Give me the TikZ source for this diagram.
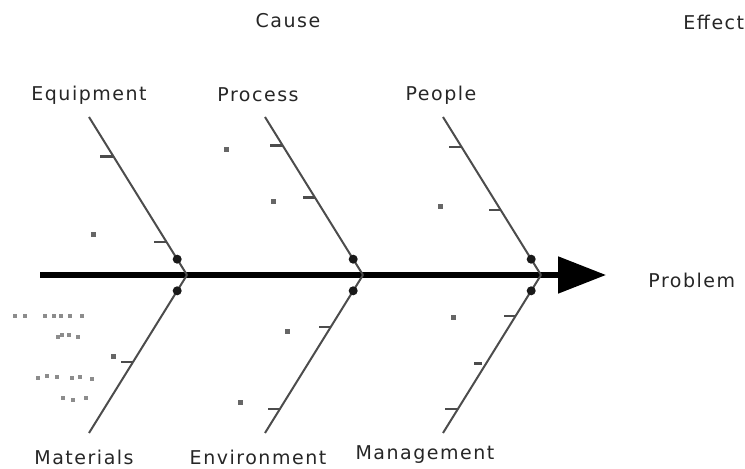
\documentclass[tikz,border=0pt]{standalone}
\usepackage{fontspec}
\newfontfamily\fishfont{DejaVu Sans}[LetterSpace=8]
\usetikzlibrary{arrows.meta}

\begin{document}
\begin{tikzpicture}[x=0.5pt, y=-0.5pt,
  bone/.style={draw=black!70, line width=1pt},
  tick/.style={draw=black!70, line width=1.2pt},
  blob/.style={circle, fill=black!90, inner sep=0pt, minimum size=4.5pt},
  speck/.style={fill=black!60},
  lbl/.style={font=\fishfont\fontsize{9.5}{11}\selectfont, text=black!85, inner sep=0pt}]
  \useasboundingbox (0,0) rectangle (745,469);

  % Headings
  \node[lbl] (cause) at (288,21) {Cause};
  \node[lbl, anchor=west] (effect) at (683,22) {Effect};

  % Spine
  \coordinate (tail) at (40,275);
  \coordinate (head) at (606,275);
  \draw[line width=2.6pt, -{Triangle[length=24pt, width=18pt]}] (tail) -- (head);
  \node[lbl, anchor=west] (problem) at (648,280) {Problem};

  % Junctions on the spine
  \coordinate (j1) at (187,275);
  \coordinate (j2) at (363,275);
  \coordinate (j3) at (541,275);

  % Upper bones
  \node[lbl] (equip) at (89,95) {Equipment};
  \node[lbl] (proc) at (258,95) {Process};
  \node[lbl] (people) at (441,95) {People};
  \coordinate (equip-top) at (89,117);
  \coordinate (proc-top) at (265,117);
  \coordinate (people-top) at (443,117);
  \draw[bone] (equip-top) -- (j1) coordinate[pos=0.25] (eq1) coordinate[pos=0.79] (eq2) node[pos=0.9, blob] {};
  \draw[bone] (proc-top) -- (j2) coordinate[pos=0.18] (pr1) coordinate[pos=0.51] (pr2) node[pos=0.9, blob] {};
  \draw[bone] (people-top) -- (j3) coordinate[pos=0.19] (pe1) coordinate[pos=0.59] (pe2) node[pos=0.9, blob] {};
  \draw[tick] (eq1) -- ++(-14,0);
  \draw[tick] (eq2) -- ++(-12,0);
  \draw[tick] (pr1) -- ++(-13,0);
  \draw[tick] (pr2) -- ++(-12,0);
  \draw[tick] (pe1) -- ++(-13,0);
  \draw[tick] (pe2) -- ++(-12,0);

  % Lower bones
  \node[lbl] (mat) at (84,457) {Materials};
  \node[lbl] (env) at (258,457) {Environment};
  \node[lbl] (mgmt) at (425,455) {Management};
  \coordinate (mat-end) at (89,433);
  \coordinate (env-end) at (265,433);
  \coordinate (mgmt-end) at (443,433);
  \draw[bone] (j1) -- (mat-end) coordinate[pos=0.55] (ma1) node[pos=0.1, blob] {};
  \draw[bone] (j2) -- (env-end) coordinate[pos=0.33] (en1) coordinate[pos=0.85] (en2) node[pos=0.1, blob] {};
  \draw[bone] (j3) -- (mgmt-end) coordinate[pos=0.26] (mg1) coordinate[pos=0.56] (mg2) coordinate[pos=0.85] (mg3) node[pos=0.1, blob] {};
  \draw[tick] (ma1) -- ++(-12,0);
  \draw[tick] (en1) -- ++(-12,0);
  \draw[tick] (en2) -- ++(-12,0);
  \draw[tick] (mg1) -- ++(-12,0);
  \draw[tick] (mg2) ++(-4,0) -- ++(-8,0);
  \draw[tick] (mg3) -- ++(-13,0);

  % Small marks beside the bones
  \foreach \x/\y in {93/235, 226/150, 273/202, 440/207, 113/357, 287/332, 240/403, 453/318}
    \fill[speck] (\x-2.5,\y-2.5) rectangle (\x+2.5,\y+2.5);

  % Faint notes left of the materials bone
  \foreach \x/\y in {15/316, 25/316, 45/316, 54/316, 61/316, 70/316, 82/316,
                     58/337, 62/335, 69/335, 78/337,
                     38/378, 47/376, 57/377, 72/378, 80/377, 92/379,
                     63/398, 73/400, 86/398}
    \fill[speck, black!45] (\x-2,\y-2) rectangle (\x+2,\y+2);
\end{tikzpicture}
\end{document}
